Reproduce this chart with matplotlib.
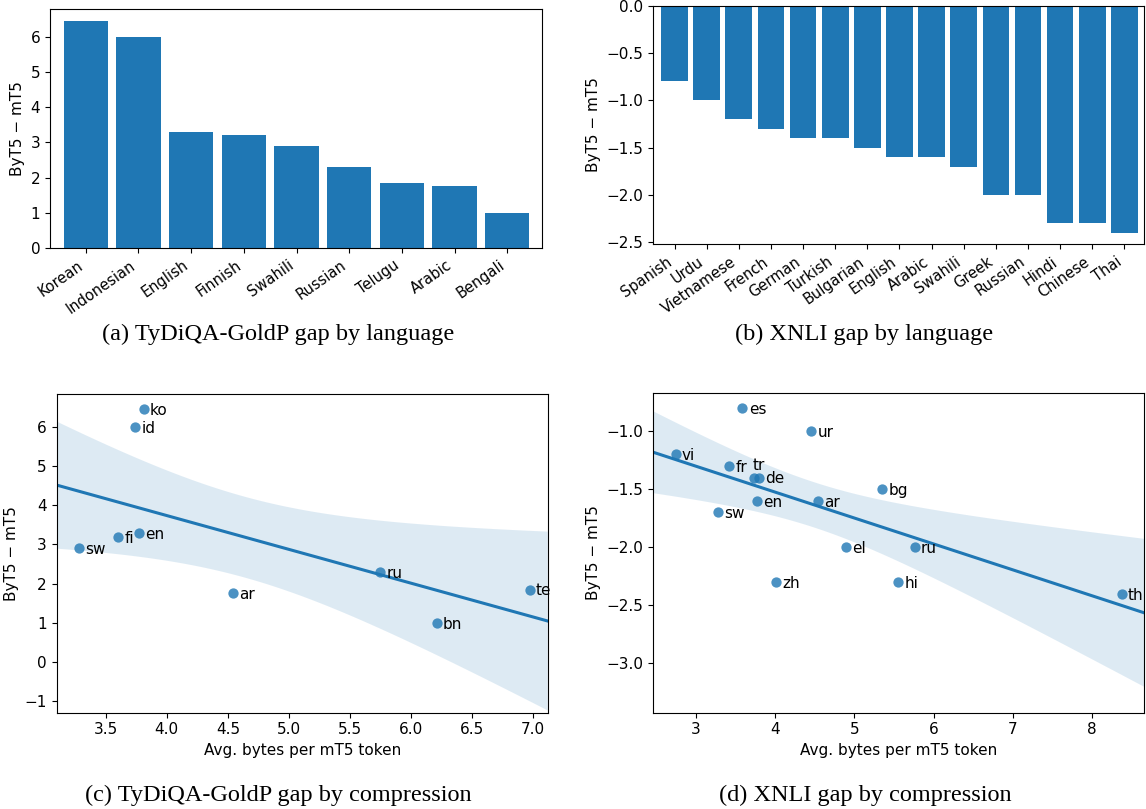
import numpy as np
import matplotlib
matplotlib.use("Agg")
import matplotlib.pyplot as plt

# ---------------- data ----------------
tydi_langs = ["Korean", "Indonesian", "English", "Finnish", "Swahili",
              "Russian", "Telugu", "Arabic", "Bengali"]
tydi_gap = [6.45, 6.0, 3.3, 3.2, 2.9, 2.3, 1.85, 1.75, 1.0]

xnli_langs = ["Spanish", "Urdu", "Vietnamese", "French", "German", "Turkish",
              "Bulgarian", "English", "Arabic", "Swahili", "Greek", "Russian",
              "Hindi", "Chinese", "Thai"]
xnli_gap = [-0.8, -1.0, -1.2, -1.3, -1.4, -1.4, -1.5, -1.6, -1.6, -1.7,
            -2.0, -2.0, -2.3, -2.3, -2.4]

tydi_codes = ["ko", "id", "en", "fi", "sw", "ru", "te", "ar", "bn"]
tydi_bytes = [3.81, 3.74, 3.77, 3.60, 3.28, 5.75, 6.97, 4.54, 6.21]
tydi_gap_sc = [6.45, 6.0, 3.3, 3.2, 2.9, 2.3, 1.85, 1.75, 1.0]

xnli_codes = ["es", "ur", "vi", "fr", "tr", "de", "bg", "en", "ar", "sw",
              "el", "ru", "zh", "hi", "th"]
xnli_bytes = [3.59, 4.46, 2.75, 3.42, 3.74, 3.80, 5.35, 3.77, 4.54, 3.28,
              4.89, 5.76, 4.01, 5.55, 8.37]
xnli_gap_sc = [-0.8, -1.0, -1.2, -1.3, -1.4, -1.4, -1.5, -1.6, -1.6, -1.7,
               -2.0, -2.0, -2.3, -2.3, -2.4]

C0 = "#1f77b4"
W, H = 1146, 809
fig = plt.figure(figsize=(W / 100, H / 100), dpi=100)
plt.rcParams["font.size"] = 11


def ax_at(l, t, r, b):
    return fig.add_axes([l / W, 1 - b / H, (r - l) / W, (b - t) / H])


ylabel = "ByT5 \u2212 mT5"

# (a)
ax = ax_at(50, 9.5, 542, 248)
ax.bar(tydi_langs, tydi_gap, color=C0, width=0.84)
ax.set_xlim(-0.68, len(tydi_langs) - 1 + 0.66)
ax.set_ylabel(ylabel)
ax.tick_params(labelsize=11)
plt.setp(ax.get_xticklabels(), rotation=35, ha="right", fontsize=10.5)

# (b)
ax = ax_at(653, 5.7, 1144, 244.3)
ax.bar(xnli_langs, xnli_gap, color=C0, width=0.83)
ax.set_xlim(-0.67, len(xnli_langs) - 1 + 0.61)
ax.set_ylabel(ylabel)
ax.set_yticks([0.0, -0.5, -1.0, -1.5, -2.0, -2.5])
ax.tick_params(labelsize=11)
plt.setp(ax.get_xticklabels(), rotation=35, ha="right", fontsize=10.5)


def regplot(ax, x, y, codes, xlim, ylim, offsets=None):
    x = np.asarray(x, float)
    y = np.asarray(y, float)
    n = len(x)
    slope, inter = np.polyfit(x, y, 1)
    grid = np.linspace(xlim[0], xlim[1], 200)
    yhat = inter + slope * grid
    resid = y - (inter + slope * x)
    s = np.sqrt(np.sum(resid ** 2) / (n - 2))
    sxx = np.sum((x - x.mean()) ** 2)
    se = s * np.sqrt(1.0 / n + (grid - x.mean()) ** 2 / sxx)
    z = 1.96
    ax.fill_between(grid, yhat - z * se, yhat + z * se,
                    facecolor=C0, alpha=0.15, linewidth=0)
    ax.plot(grid, yhat, color=C0, lw=2.2)
    ax.scatter(x, y, s=55, color=C0, alpha=0.8, linewidths=0, zorder=3)
    offsets = offsets or {}
    for xi, yi, c in zip(x, y, codes):
        off = offsets.get(c, (4.5, -1))
        ax.annotate(c, (xi, yi), xytext=off, textcoords="offset points",
                    va="center", ha="left", fontsize=11)
    ax.set_xlim(*xlim)
    ax.set_ylim(*ylim)
    ax.set_xlabel("Avg. bytes per mT5 token")
    ax.set_ylabel(ylabel)
    ax.tick_params(labelsize=11)


# (c)
ax = ax_at(56.7, 394.3, 547.7, 712.7)
regplot(ax, tydi_bytes, tydi_gap_sc, tydi_codes,
        (3.099, 7.119), (-1.29, 6.83))

# (d)
ax = ax_at(653, 393, 1144.3, 712.7)
regplot(ax, xnli_bytes, xnli_gap_sc, xnli_codes,
        (2.463, 8.656), (-3.425, -0.672), offsets={"tr": (-1, 9)})
ax.set_yticks([-1.0, -1.5, -2.0, -2.5, -3.0])

cap = dict(ha="center", va="center", family="Liberation Serif", fontsize=17.5)
fig.text(278 / W, 1 - 334 / H, "(a) TyDiQA-GoldP gap by language", **cap)
fig.text(864 / W, 1 - 334 / H, "(b) XNLI gap by language", **cap)
fig.text(278 / W, 1 - 795 / H, "(c) TyDiQA-GoldP gap by compression", **cap)
fig.text(865 / W, 1 - 795 / H, "(d) XNLI gap by compression", **cap)

fig.savefig("out.png", dpi=100)
